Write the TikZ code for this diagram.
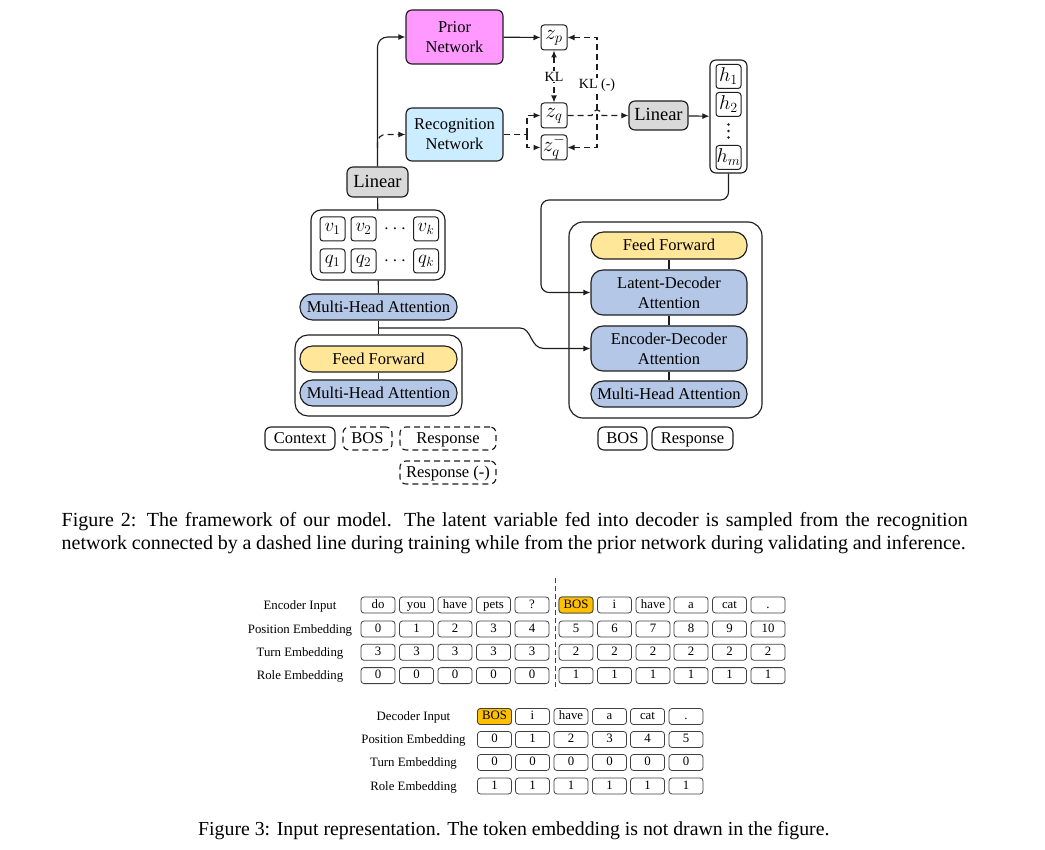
\RequirePackage{fix-cm}
\documentclass[tikz,border=0pt]{standalone}
\usepackage{fontspec}
\setmainfont{Liberation Serif}
\usetikzlibrary{arrows.meta,calc}

\definecolor{priorc}{RGB}{255,153,255}
\definecolor{recogc}{RGB}{204,236,255}
\definecolor{linc}{RGB}{217,217,217}
\definecolor{ffc}{RGB}{255,230,153}
\definecolor{attc}{RGB}{180,199,231}
\definecolor{bosc}{RGB}{255,192,0}
\definecolor{edge}{RGB}{30,30,30}

\tikzset{
 base/.style={draw=edge, line width=1.15pt, inner sep=0pt, align=center, font=\fontsize{16.5}{20}\selectfont},
 rbox/.style={base, rounded corners=6pt},
 one/.style={text height=13.5pt, text depth=3pt},
 pill/.style={base, one, rounded corners=12.5pt, minimum width=157pt, minimum height=26pt},
 vbox/.style={base, rounded corners=3pt, minimum width=25pt, minimum height=24pt, line width=1pt, font=\fontsize{19}{20}\selectfont},
 zbox/.style={base, rounded corners=3pt, minimum width=26pt, minimum height=25pt, line width=1pt, font=\fontsize{21}{22}\selectfont},
 arr/.style={-{Latex[length=7pt,width=6pt]}},
 ln/.style={line width=1.15pt, draw=edge},
 dsh/.style={dash pattern=on 6pt off 4pt},
 klab/.style={fill=white, inner sep=1pt, font=\fontsize{14}{16}\selectfont},
 tok/.style={draw=black!75, line width=0.8pt, rounded corners=3pt, minimum width=34pt, minimum height=16pt, inner sep=0pt, text height=9pt, text depth=2.5pt, font=\fontsize{12.8}{14}\selectfont},
 lab/.style={font=\fontsize{12.8}{14}\selectfont, inner sep=0pt, anchor=base},
 captxt/.style={font=\fontsize{20}{23}\selectfont, inner sep=0pt, anchor=base west},
 dotc/.style={fill=edge, circle, inner sep=0pt, minimum size=2.6pt},
}

\begin{document}
\begin{tikzpicture}[x=1pt,y=-1pt]
\fill[white] (0,0) rectangle (1045,850);
\useasboundingbox (0,0) rectangle (1045,850);

% ---------- Figure 2 ----------
\node[rbox, fill=priorc, minimum width=97pt, minimum height=54pt] (prior) at (454.5,37) {Prior\\Network};
\node[rbox, fill=recogc, minimum width=97pt, minimum height=53pt] (recog) at (454.5,134.5) {Recognition\\Network};
\node[zbox] (zp) at (554,37.5) {$z_p$};
\node[zbox] (zq) at (554,115.5) {$z_q$};
\node[zbox] (zqm) at (554,147.5) {$z_q^{-}$};
\node[rbox, one, fill=linc, minimum width=59pt, minimum height=29pt, font=\fontsize{18.5}{20}\selectfont] (linR) at (658.5,115.5) {Linear};
\node[rbox, draw=edge, minimum width=37pt, minimum height=113pt] (hcol) at (728.5,116.5) {};
\node[vbox, font=\fontsize{20}{21}\selectfont] (h1) at (728.5,76.5) {$h_1$};
\node[vbox, font=\fontsize{20}{21}\selectfont] (h2) at (728.5,104.5) {$h_2$};
\node[dotc] (hd1) at (728.5,124.5) {};
\node[dotc] (hd2) at (728.5,131) {};
\node[dotc] (hd3) at (728.5,137.5) {};
\node[vbox, font=\fontsize{20}{21}\selectfont] (hm) at (728.5,157.5) {$h_m$};

\node[rbox, one, fill=linc, minimum width=61pt, minimum height=30pt, font=\fontsize{18.5}{20}\selectfont] (linL) at (377.5,182) {Linear};
\node[rbox, rounded corners=10pt, minimum width=134pt, minimum height=70pt] (vq) at (378,245) {};
\node[vbox] (v1) at (332.5,229) {$v_1$};
\node[vbox] (v2) at (363.5,229) {$v_2$};
\node[inner sep=0pt, font=\fontsize{19}{20}\selectfont] (vd) at (395,229) {$\cdots$};
\node[vbox] (vk) at (426,229) {$v_k$};
\node[vbox] (q1) at (332.5,261) {$q_1$};
\node[vbox] (q2) at (363.5,261) {$q_2$};
\node[inner sep=0pt, font=\fontsize{19}{20}\selectfont] (qd) at (395,261) {$\cdots$};
\node[vbox] (qk) at (426,261) {$q_k$};
\node[pill, fill=attc] (mha1) at (378.5,307) {Multi-Head Attention};

\node[rbox, rounded corners=13pt, minimum width=167pt, minimum height=81pt] (enc) at (378.5,375.5) {};
\node[pill, fill=ffc] (ff1) at (378.5,359) {Feed Forward};
\node[pill, fill=attc] (mha2) at (378.5,393) {Multi-Head Attention};

\node[rbox, one, minimum width=70pt, minimum height=23pt] (ctx) at (300,438.5) {Context};
\node[rbox, one, dsh, minimum width=49pt, minimum height=23pt] (bos1) at (367.5,438.5) {BOS};
\node[rbox, one, dsh, minimum width=96pt, minimum height=23pt] (resp1) at (448,438.5) {Response};
\node[rbox, one, dsh, minimum width=96pt, minimum height=23pt] (respm) at (448,472.5) {Response (-)};

\node[rbox, rounded corners=14pt, minimum width=193pt, minimum height=196pt] (dec) at (665.5,320) {};
\node[pill, fill=ffc, minimum width=156pt, minimum height=27pt] (ff2) at (669,245.5) {Feed Forward};
\node[rbox, rounded corners=12pt, fill=attc, minimum width=156pt, minimum height=45pt] (lat) at (669,292.5) {Latent-Decoder\\Attention};
\node[rbox, rounded corners=12pt, fill=attc, minimum width=156pt, minimum height=45pt] (ed) at (669,348.5) {Encoder-Decoder\\Attention};
\node[pill, fill=attc, minimum width=156pt] (mha3) at (669,394) {Multi-Head Attention};
\node[rbox, one, minimum width=49pt, minimum height=23pt] (bos2) at (622.5,438.5) {BOS};
\node[rbox, one, minimum width=81pt, minimum height=23pt] (resp2) at (692.5,438.5) {Response};

% connectors
\draw[ln, arr] (prior) -- (zp);
\coordinate (rs) at (527,134.5);
\draw[ln, dsh] (recog.east) -- (rs);
\draw[ln, dsh, arr] (rs) |- (zq.west);
\draw[ln, dsh, arr] (rs) |- (zqm.west);
\draw[ln, dsh, {Latex[length=7pt,width=6pt]}-{Latex[length=7pt,width=6pt]}] (zp) -- node[klab] (kl) {KL} (zq);
\coordinate (klt) at (597,37.5);
\coordinate (klb) at (597,147.5);
\draw[ln, dsh, {Latex[length=7pt,width=6pt]}-{Latex[length=7pt,width=6pt]}] (zp.east) -- (klt) -- (klb) -- (zqm.east);
\node[klab] (klm) at (597,85) {KL (-)};
\draw[ln, dsh, arr] (zq.east) -- (592,115.5) .. controls (593,108) and (601,108) .. (602,115.5) -- (linR.west);
\draw[ln, arr] (linR) -- (hcol);
\draw[ln, arr, rounded corners=8pt] (hcol.south) -- (728.5,200) -- (541,200) -- (541,292.5) -- (lat.west);

\draw[ln, arr, rounded corners=10pt] (linL.north) |- (prior.west);
\coordinate (br) at (377.5,148);
\draw[ln, dsh, arr, rounded corners=8pt] (br) |- (recog.west);
\draw[ln] (linL) -- (vq);
\draw[ln] (vq) -- (mha1);
\draw[ln] (mha1) -- (enc);
\draw[ln] (ff1) -- (mha2);
\coordinate (ej) at (378.5,328);
\draw[ln, arr] (ej) -- (520,328) .. controls (532,328) and (530,348.5) .. (544,348.5) -- (ed.west);
\draw[ln] (ff2) -- (lat);
\draw[ln] (lat) -- (ed);
\draw[ln] (ed) -- (mha3);

% captions figure 2
\node[captxt] (c2a) at (61.5,526) {\makebox[906pt][s]{Figure 2: The framework of our model. The latent variable fed into decoder is sampled from the recognition}};
\node[captxt] (c2b) at (61.5,549) {\makebox[904pt][s]{network connected by a dashed line during training while from the prior network during validating and inference.}};

% ---------- Figure 3 ----------
\foreach \y/\t in {605/Encoder Input, 629/Position Embedding, 652.3/Turn Embedding, 675.6/Role Embedding}
  \node[lab] at (300,\y+4.3) {\t};
\foreach \x/\t [count=\i] in {378/do,416.5/you,455/have,493.5/pets,532/?,576/BOS,614.5/i,653/have,691/a,729.5/cat,768/.}
  \node[tok] (ea\i) at (\x,605) {\t};
\node[tok, fill=bosc] (eb) at (576,605) {BOS};
\foreach \x [count=\i from 0] in {378,416.5,455,493.5,532,576,614.5,653,691,729.5,768}
  \node[tok] (ep\i) at (\x,629) {\i};
\foreach \x/\t [count=\i] in {378/3,416.5/3,455/3,493.5/3,532/3,576/2,614.5/2,653/2,691/2,729.5/2,768/2}
  \node[tok] (et\i) at (\x,652.3) {\t};
\foreach \x/\t [count=\i] in {378/0,416.5/0,455/0,493.5/0,532/0,576/1,614.5/1,653/1,691/1,729.5/1,768/1}
  \node[tok] (er\i) at (\x,675.6) {\t};
\coordinate (sept) at (555,578);
\coordinate (sepb) at (555,690);
\draw[black!75, line width=0.8pt, dash pattern=on 5pt off 3pt] (sept) -- (sepb);

\foreach \y/\t in {716.5/Decoder Input, 739.5/Position Embedding, 762.5/Turn Embedding, 786/Role Embedding}
  \node[lab] at (413.5,\y+4.3) {\t};
\foreach \x/\t [count=\i] in {494.5/BOS,532.5/i,571/have,609.5/a,647.5/cat,686/.}
  \node[tok] (da\i) at (\x,716.5) {\t};
\node[tok, fill=bosc] (db) at (494.5,716.5) {BOS};
\foreach \x [count=\i from 0] in {494.5,532.5,571,609.5,647.5,686}
  \node[tok] (dp\i) at (\x,739.5) {\i};
\foreach \x [count=\i] in {494.5,532.5,571,609.5,647.5,686}
  \node[tok] (dt\i) at (\x,762.5) {0};
\foreach \x [count=\i] in {494.5,532.5,571,609.5,647.5,686}
  \node[tok] (dr\i) at (\x,786) {1};

\node[captxt, font=\fontsize{19.8}{23}\selectfont] (c3) at (198,835) {Figure 3: Input representation. The token embedding is not drawn in the figure.};
\end{tikzpicture}
\end{document}
